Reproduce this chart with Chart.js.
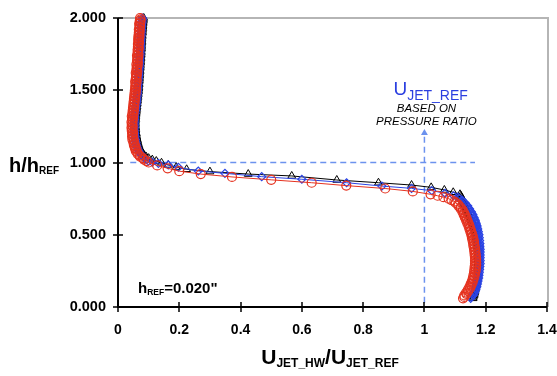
<!DOCTYPE html>
<html>
<head>
<meta charset="utf-8">
<script src="https://cdn.jsdelivr.net/npm/chart.js@4.4.1/dist/chart.umd.min.js"></script>
<style>
  html, body { margin: 0; padding: 0; background: #fff; }
  #wrap { width: 557px; height: 376px; position: relative; }
</style>
</head>
<body>
<div id="wrap"><canvas id="profileChart"></canvas></div>
<script>
// Hot-wire jet velocity profiles, U_JET_HW / U_JET_REF against h / h_REF.
// Each traverse = lower core (lowerH) + shear layer + upper region (upperH).
const lowerH = [0.06, 0.07, 0.08, 0.09, 0.10, 0.11, 0.12, 0.13, 0.14, 0.15,
  0.16, 0.17, 0.18, 0.19, 0.20, 0.21, 0.22, 0.23, 0.24, 0.25,
  0.26, 0.27, 0.28, 0.29, 0.30, 0.31, 0.32, 0.33, 0.34, 0.35,
  0.36, 0.37, 0.38, 0.39, 0.40, 0.41, 0.42, 0.43, 0.44, 0.45,
  0.46, 0.47, 0.48, 0.49, 0.50, 0.51, 0.52, 0.53, 0.54, 0.55,
  0.56, 0.57, 0.58, 0.59, 0.60, 0.61, 0.62, 0.63, 0.64, 0.65,
  0.66, 0.67, 0.68, 0.69, 0.70, 0.71, 0.72, 0.73, 0.74, 0.75,
  0.76];
const upperH = [1.01, 1.02, 1.03, 1.04, 1.05, 1.06, 1.07, 1.08, 1.09, 1.10,
  1.11, 1.12, 1.13, 1.14, 1.15, 1.16, 1.17, 1.18, 1.19, 1.20,
  1.21, 1.22, 1.23, 1.24, 1.25, 1.26, 1.27, 1.28, 1.29, 1.30,
  1.31, 1.32, 1.33, 1.34, 1.35, 1.36, 1.37, 1.38, 1.39, 1.40,
  1.41, 1.42, 1.43, 1.44, 1.45, 1.46, 1.47, 1.48, 1.49, 1.50,
  1.51, 1.52, 1.53, 1.54, 1.55, 1.56, 1.57, 1.58, 1.59, 1.60,
  1.61, 1.62, 1.63, 1.64, 1.65, 1.66, 1.67, 1.68, 1.69, 1.70,
  1.71, 1.72, 1.73, 1.74, 1.75, 1.76, 1.77, 1.78, 1.79, 1.80,
  1.81, 1.82, 1.83, 1.84, 1.85, 1.86, 1.87, 1.88, 1.89, 1.90,
  1.91, 1.92, 1.93, 1.94, 1.95, 1.96, 1.97, 1.98, 1.99, 2.00];

// red circles
const redLowU = [1.126, 1.130, 1.130, 1.137, 1.136, 1.143, 1.142, 1.149, 1.147, 1.153,
  1.151, 1.157, 1.155, 1.160, 1.158, 1.163, 1.160, 1.165, 1.162, 1.167,
  1.163, 1.168, 1.164, 1.169, 1.165, 1.169, 1.165, 1.169, 1.165, 1.168,
  1.164, 1.167, 1.163, 1.166, 1.162, 1.165, 1.160, 1.163, 1.159, 1.162,
  1.157, 1.160, 1.155, 1.158, 1.153, 1.155, 1.150, 1.152, 1.147, 1.149,
  1.144, 1.146, 1.140, 1.142, 1.136, 1.138, 1.132, 1.134, 1.128, 1.130,
  1.124, 1.125, 1.118, 1.118, 1.111, 1.110, 1.102, 1.098, 1.088, 1.079,
  1.062];
const redShearH = [0.77, 0.78, 0.80, 0.82, 0.84, 0.86, 0.88, 0.90, 0.92, 0.94, 0.96, 0.98, 1.00];
const redShearU = [1.043, 1.020, 0.962, 0.872, 0.745, 0.632, 0.500, 0.372, 0.270, 0.200, 0.162, 0.128, 0.100];
const redUpU = [0.093, 0.085, 0.081, 0.072, 0.070, 0.064, 0.063, 0.058, 0.060, 0.055,
  0.057, 0.052, 0.054, 0.050, 0.052, 0.047, 0.050, 0.046, 0.049, 0.046,
  0.049, 0.045, 0.047, 0.044, 0.048, 0.045, 0.047, 0.044, 0.048, 0.046,
  0.049, 0.045, 0.050, 0.047, 0.051, 0.048, 0.052, 0.049, 0.053, 0.050,
  0.054, 0.051, 0.055, 0.052, 0.056, 0.053, 0.057, 0.054, 0.058, 0.055,
  0.059, 0.056, 0.058, 0.057, 0.060, 0.056, 0.061, 0.058, 0.060, 0.059,
  0.062, 0.058, 0.063, 0.060, 0.062, 0.061, 0.064, 0.060, 0.065, 0.062,
  0.064, 0.063, 0.066, 0.062, 0.067, 0.064, 0.066, 0.064, 0.068, 0.065,
  0.067, 0.065, 0.069, 0.066, 0.068, 0.066, 0.070, 0.067, 0.070, 0.068,
  0.071, 0.068, 0.071, 0.070, 0.072, 0.069, 0.073, 0.071, 0.074, 0.072];

// blue diamonds
const blueLowU = [1.151, 1.153, 1.159, 1.160, 1.164, 1.164, 1.168, 1.168, 1.171, 1.170,
  1.173, 1.172, 1.175, 1.174, 1.177, 1.175, 1.178, 1.177, 1.179, 1.178,
  1.180, 1.179, 1.181, 1.179, 1.182, 1.180, 1.182, 1.180, 1.182, 1.180,
  1.182, 1.180, 1.182, 1.180, 1.182, 1.180, 1.181, 1.179, 1.181, 1.178,
  1.180, 1.177, 1.179, 1.176, 1.178, 1.175, 1.176, 1.173, 1.174, 1.171,
  1.172, 1.169, 1.169, 1.166, 1.166, 1.162, 1.162, 1.158, 1.158, 1.154,
  1.153, 1.148, 1.147, 1.142, 1.141, 1.135, 1.133, 1.126, 1.123, 1.115,
  1.109];
const blueShearH = [0.770, 0.787, 0.805, 0.821, 0.837, 0.860, 0.884, 0.902, 0.925, 0.941, 0.967, 0.983, 0.994, 1.003];
const blueShearU = [1.095, 1.067, 1.024, 0.958, 0.861, 0.746, 0.600, 0.469, 0.349, 0.262, 0.197, 0.164, 0.132, 0.112];
const blueUpU = [0.100, 0.093, 0.087, 0.082, 0.077, 0.074, 0.070, 0.068, 0.065, 0.064,
  0.061, 0.061, 0.058, 0.059, 0.056, 0.057, 0.055, 0.056, 0.054, 0.055,
  0.053, 0.054, 0.052, 0.054, 0.052, 0.054, 0.052, 0.054, 0.052, 0.055,
  0.053, 0.055, 0.054, 0.056, 0.055, 0.058, 0.056, 0.059, 0.057, 0.060,
  0.059, 0.061, 0.060, 0.062, 0.061, 0.063, 0.062, 0.064, 0.063, 0.064,
  0.064, 0.065, 0.064, 0.066, 0.065, 0.066, 0.065, 0.067, 0.066, 0.068,
  0.067, 0.068, 0.068, 0.069, 0.068, 0.070, 0.069, 0.070, 0.070, 0.071,
  0.070, 0.072, 0.071, 0.072, 0.072, 0.073, 0.072, 0.073, 0.073, 0.074,
  0.073, 0.074, 0.074, 0.075, 0.074, 0.075, 0.075, 0.076, 0.075, 0.076,
  0.076, 0.077, 0.076, 0.077, 0.077, 0.078, 0.078, 0.079, 0.079, 0.080];

// black triangles
const blackLowU = [1.159, 1.160, 1.162, 1.163, 1.164, 1.165, 1.166, 1.167, 1.168, 1.169,
  1.170, 1.170, 1.171, 1.172, 1.172, 1.173, 1.173, 1.174, 1.174, 1.174,
  1.175, 1.175, 1.175, 1.175, 1.175, 1.175, 1.175, 1.175, 1.175, 1.175,
  1.175, 1.175, 1.175, 1.174, 1.174, 1.174, 1.173, 1.173, 1.172, 1.172,
  1.171, 1.170, 1.169, 1.168, 1.167, 1.166, 1.165, 1.164, 1.163, 1.161,
  1.160, 1.158, 1.157, 1.155, 1.153, 1.151, 1.149, 1.147, 1.145, 1.143,
  1.141, 1.139, 1.137, 1.135, 1.133, 1.131, 1.129, 1.127, 1.125, 1.123,
  1.121];
const blackShearH = [0.770, 0.780, 0.794, 0.810, 0.828, 0.844, 0.860, 0.879, 0.907, 0.920, 0.937, 0.953, 0.968, 0.983, 0.998];
const blackShearU = [1.119, 1.116, 1.094, 1.065, 1.022, 0.958, 0.850, 0.714, 0.567, 0.425, 0.300, 0.224, 0.190, 0.164, 0.142];
const blackUpU = [0.125, 0.112, 0.100, 0.092, 0.086, 0.082, 0.078, 0.075, 0.073, 0.071,
  0.069, 0.068, 0.066, 0.065, 0.064, 0.063, 0.062, 0.061, 0.060, 0.060,
  0.059, 0.058, 0.058, 0.058, 0.057, 0.057, 0.057, 0.057, 0.057, 0.058,
  0.058, 0.058, 0.059, 0.059, 0.060, 0.060, 0.061, 0.061, 0.062, 0.062,
  0.063, 0.063, 0.064, 0.064, 0.065, 0.065, 0.066, 0.066, 0.067, 0.067,
  0.068, 0.068, 0.068, 0.069, 0.069, 0.069, 0.070, 0.070, 0.070, 0.071,
  0.071, 0.071, 0.072, 0.072, 0.072, 0.073, 0.073, 0.073, 0.074, 0.074,
  0.074, 0.075, 0.075, 0.075, 0.076, 0.076, 0.076, 0.076, 0.077, 0.077,
  0.077, 0.077, 0.078, 0.078, 0.078, 0.078, 0.079, 0.079, 0.079, 0.080,
  0.080, 0.080, 0.081, 0.081, 0.081, 0.082, 0.082, 0.083, 0.083, 0.084];

// axis ticks
const xTicks = [0, 0.2, 0.4, 0.6, 0.8, 1.0, 1.2, 1.4];
const xTickLabels = ['0', '0.2', '0.4', '0.6', '0.8', '1', '1.2', '1.4'];
const yTicks = [0, 0.5, 1.0, 1.5, 2.0];
const yTickLabels = ['0.000', '0.500', '1.000', '1.500', '2.000'];

// reference level h = h_REF and U_JET_REF from pressure ratio
const refLevel = 1.0;
const refLevelSpan = [0.04, 1.165];
const refVelocity = 1.0;
const refArrowSpan = [0.03, 1.204];

const FONT = "Arial, 'Liberation Sans', sans-serif";
const RED = '#e5321f';
const BLUE = '#2b44e4';
const DASH = '#6c92ee';

function pts(us, hs) {
  return us.map((u, i) => ({ x: u, y: hs[i] }));
}

function traverse(lowU, shearU, shearH, upU) {
  return pts(lowU, lowerH).concat(pts(shearU, shearH), pts(upU, upperH));
}

// rich text: parts = [text, size, baselineShift]
function richText(ctx, parts, x, y, opts) {
  const weight = opts.weight || 'normal';
  const style = opts.italic ? 'italic ' : '';
  let total = 0;
  parts.forEach(p => {
    ctx.font = style + weight + ' ' + p[1] + 'px ' + FONT;
    total += ctx.measureText(p[0]).width;
  });
  let cx = opts.align === 'center' ? x - total / 2 : x;
  ctx.fillStyle = opts.color || '#000';
  ctx.textAlign = 'left';
  ctx.textBaseline = 'alphabetic';
  parts.forEach(p => {
    ctx.font = style + weight + ' ' + p[1] + 'px ' + FONT;
    ctx.fillText(p[0], cx, y + (p[2] || 0));
    cx += ctx.measureText(p[0]).width;
  });
}

const frame = {
  id: 'frame',
  beforeDatasetsDraw(chart) {
    const { ctx, chartArea: a } = chart;
    ctx.save();
    ctx.strokeStyle = '#b5b5b5';
    ctx.lineWidth = 2;
    ctx.beginPath();
    ctx.moveTo(a.left, a.top);
    ctx.lineTo(a.right + 1, a.top);
    ctx.lineTo(a.right + 1, a.bottom);
    ctx.stroke();
    ctx.restore();
  },
  afterDraw(chart) {
    const { ctx, chartArea: a, scales } = chart;
    const xs = scales.x, ys = scales.y;
    ctx.save();
    // black axes with ticks crossing them
    ctx.strokeStyle = '#000';
    ctx.lineWidth = 2;
    ctx.beginPath();
    ctx.moveTo(a.left, a.top);
    ctx.lineTo(a.left, a.bottom);
    ctx.lineTo(a.right, a.bottom);
    ctx.stroke();
    ctx.lineWidth = 1.5;
    ctx.beginPath();
    yTicks.forEach(v => {
      const py = Math.round(ys.getPixelForValue(v));
      ctx.moveTo(a.left - 5, py);
      ctx.lineTo(a.left + 5, py);
    });
    xTicks.forEach(v => {
      const px = Math.round(xs.getPixelForValue(v));
      ctx.moveTo(px, a.bottom - 5);
      ctx.lineTo(px, a.bottom + 5);
    });
    ctx.stroke();

    // axis titles
    richText(ctx, [['h/h', 20, 0], ['REF', 10, 2]], 9, 172, { weight: 'bold' });
    richText(ctx, [['U', 21, 0], ['JET_HW', 12, 3], ['/U', 21, 0], ['JET_REF', 12, 3]],
      330, 364, { weight: 'bold', align: 'center' });

    // h_REF note
    richText(ctx, [['h', 15, 0], ['REF', 8.5, 2], ['=0.020"', 15, 0]], 138, 293, { weight: 'bold' });

    // U_JET_REF note above the arrow
    const ax = xs.getPixelForValue(refVelocity);
    richText(ctx, [['U', 19, 0], ['JET_REF', 14, 5]], ax - 31, 95, { color: '#2b3fe0' });
    richText(ctx, [['BASED ON', 11.5, 0]], ax + 2, 112, { italic: true, align: 'center' });
    richText(ctx, [['PRESSURE RATIO', 11.5, 0]], ax + 2, 125, { italic: true, align: 'center' });
    ctx.restore();
  }
};

const ctx = document.getElementById('profileChart').getContext('2d');

new Chart(ctx, {
  type: 'scatter',
  data: {
    datasets: [
      {
        label: 'red',
        data: traverse(redLowU, redShearU, redShearH, redUpU),
        showLine: true,
        borderColor: RED,
        borderWidth: 1,
        pointStyle: 'circle',
        pointRadius: 4.5,
        pointBorderWidth: 1.2,
        pointBorderColor: RED,
        pointBackgroundColor: 'rgba(0,0,0,0)',
        clip: false
      },
      {
        label: 'blue',
        data: traverse(blueLowU, blueShearU, blueShearH, blueUpU),
        showLine: true,
        borderColor: BLUE,
        borderWidth: 1,
        pointStyle: 'rectRot',
        pointRadius: 4,
        pointBorderWidth: 1.2,
        pointBorderColor: BLUE,
        pointBackgroundColor: 'rgba(0,0,0,0)',
        clip: false
      },
      {
        label: 'black',
        data: traverse(blackLowU, blackShearU, blackShearH, blackUpU),
        showLine: true,
        borderColor: '#000',
        borderWidth: 1,
        pointStyle: 'triangle',
        pointRadius: 4.5,
        pointBorderWidth: 1,
        pointBorderColor: '#000',
        pointBackgroundColor: 'rgba(0,0,0,0)',
        clip: false
      },
      {
        label: 'h_REF',
        data: refLevelSpan.map(u => ({ x: u, y: refLevel })),
        showLine: true,
        borderColor: DASH,
        borderWidth: 1.5,
        borderDash: [6, 4],
        pointRadius: 0
      },
      {
        label: 'U_JET_REF',
        data: refArrowSpan.map(h => ({ x: refVelocity, y: h })),
        showLine: true,
        borderColor: DASH,
        borderWidth: 1.5,
        borderDash: [6, 4],
        pointRadius: 0
      },
      {
        label: 'arrow',
        data: [{ x: refVelocity, y: refArrowSpan[1] }],
        pointStyle: 'triangle',
        pointRadius: 4,
        pointBorderWidth: 0,
        pointBackgroundColor: DASH,
        pointBorderColor: DASH
      }
    ]
  },
  options: {
    responsive: true,
    maintainAspectRatio: false,
    animation: false,
    layout: { padding: { left: 0, right: 10, top: 18, bottom: 0 } },
    plugins: {
      legend: { display: false },
      tooltip: { enabled: false }
    },
    scales: {
      x: {
        type: 'linear',
        min: 0,
        max: 1.4,
        afterBuildTicks: s => { s.ticks = xTicks.map(v => ({ value: v })); },
        afterFit: s => { s.height = 69; s.paddingLeft = 0; s.paddingRight = 0; },
        grid: { display: false, drawTicks: false },
        border: { display: false },
        ticks: {
          padding: 15,
          color: '#000',
          font: { family: FONT, size: 14, weight: 'bold' },
          callback: (v, i) => xTickLabels[i]
        }
      },
      y: {
        type: 'linear',
        min: 0,
        max: 2,
        afterBuildTicks: s => { s.ticks = yTicks.map(v => ({ value: v })); },
        afterFit: s => { s.width = 118; s.paddingTop = 0; s.paddingBottom = 0; },
        grid: { display: false, drawTicks: false },
        border: { display: false },
        ticks: {
          padding: 12,
          color: '#000',
          font: { family: FONT, size: 14.5, weight: 'bold' },
          callback: (v, i) => yTickLabels[i]
        }
      }
    }
  },
  plugins: [frame]
});
</script>
</body>
</html>
